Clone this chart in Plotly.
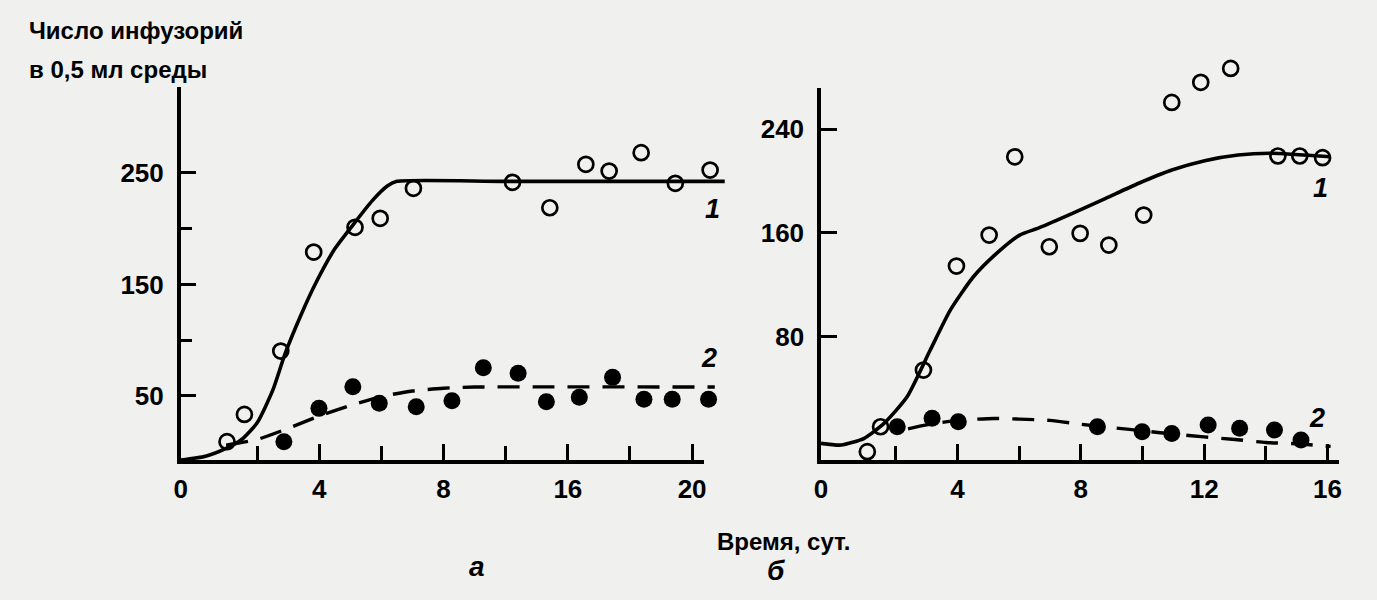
import plotly.graph_objects as go

# ---------------- data ----------------
# Panel a
a_open_x = [1.03, 1.59, 2.76, 3.82, 5.15, 5.96, 7.03, 10.22, 11.42, 12.58, 13.33, 14.36, 15.46, 16.58]
a_open_y = [9.0, 33.5, 90.3, 179.1, 201.3, 209.3, 236.2, 241.6, 218.8, 257.8, 251.7, 268.2, 240.7, 252.6]
a_fill_x = [2.86, 3.99, 5.08, 5.93, 7.12, 8.27, 9.28, 10.40, 11.31, 12.37, 13.44, 14.45, 15.36, 16.53]
a_fill_y = [9.0, 38.9, 58.3, 43.4, 40.4, 45.7, 75.3, 70.3, 44.8, 48.8, 66.7, 47.0, 47.0, 47.0]
a_curve1_x = [-0.46, 0.34, 1.0, 1.5, 2.0, 2.5, 2.9, 3.4, 3.9, 4.5, 5.1, 5.7, 6.2, 6.5, 10.0, 17.05]
a_curve1_y = [-7.4, -4.0, 3.0, 11.0, 26.0, 55.0, 88.0, 122.0, 152.0, 182.0, 204.0, 225.0, 238.5, 242.5, 242.5, 242.5]
a_curve2_x = [1.0, 2.0, 3.0, 4.0, 5.0, 6.0, 7.0, 8.0, 9.0, 16.73]
a_curve2_y = [6.0, 11.0, 21.0, 32.0, 41.5, 49.5, 54.5, 57.0, 58.0, 58.0]

# Panel б
b_open_x = [1.08, 1.51, 2.90, 3.97, 5.03, 5.86, 6.98, 7.98, 8.91, 10.04, 10.95, 11.89, 12.86, 14.39, 15.10, 15.84]
b_open_y = [-8.6, 10.6, 54.3, 134.4, 158.3, 218.6, 149.3, 159.6, 150.6, 173.7, 260.5, 276.0, 286.7, 219.2, 219.2, 217.9]
b_fill_x = [2.05, 3.18, 4.03, 8.54, 9.99, 10.95, 12.13, 13.15, 14.28, 15.14]
b_fill_y = [10.6, 17.1, 14.5, 10.6, 6.8, 5.5, 11.9, 9.4, 8.1, 0.4]
b_curve1_x = [-0.42, 0.23, 0.98, 1.62, 2.37, 3.12, 3.77, 4.52, 5.27, 6.02, 6.66, 7.73, 8.81, 9.88, 10.95, 12.02, 13.10, 14.17, 16.09]
b_curve1_y = [-2.2, -3.5, 1.7, 13.2, 33.7, 69.7, 100.5, 126.2, 144.2, 158.3, 164.0, 175.0, 186.6, 198.2, 208.4, 215.6, 220.0, 221.3, 218.6]
b_curve2_x = [2.4, 3.0, 4.0, 5.2, 6.0, 7.0, 8.0, 9.0, 10.0, 11.0, 12.0, 13.0, 14.0, 15.0, 16.1]
b_curve2_y = [9.0, 12.0, 15.5, 17.0, 16.5, 15.5, 12.5, 10.0, 7.5, 5.0, 2.8, 0.8, -1.5, -2.5, -4.5]

# ticks
a_xtick_vals = [-0.46, 4, 8, 12, 16]
a_xtick_text = ["0", "4", "8", "16", "20"]
a_xminor = [2, 6, 10, 14]
a_ytick_vals = [50, 150, 250]
a_yminor = [100, 200]
b_xtick_vals = [-0.42, 4, 8, 12, 16]
b_xtick_text = ["0", "4", "8", "12", "16"]
b_xminor = [2, 6, 10, 14]
b_ytick_vals = [80, 160, 240]

# ---------------- layout helpers ----------------
W, H = 1377, 600
FONT = "Liberation Sans, Arial, Helvetica, sans-serif"


def xdom(p0, p1):
    return [p0 / W, p1 / W]


def ydom(top, bottom):
    return [(H - bottom) / H, (H - top) / H]


def extend(rng, p0, p1, p1_new):
    """keep the same scale, extend the range to a larger pixel span"""
    return [rng[0], rng[0] + (rng[1] - rng[0]) * (p1_new - p0) / (p1 - p0)]


# visible frames (pixels) and ranges
A_X = (175, 702); A_XR = [-0.46, 16.38]
A_Y = (87, 460); A_YR = [-7.4, 327.1]
B_X = (820, 1342); B_XR = [-0.42, 16.38]
B_Y = (88, 460); B_YR = [-15.0, 271.6]

fig = go.Figure()

# empty traces so that the frame axes are drawn
fig.add_trace(go.Scatter(x=[], y=[], xaxis="x", yaxis="y", showlegend=False))
fig.add_trace(go.Scatter(x=[], y=[], xaxis="x2", yaxis="y2", showlegend=False))

open_marker = dict(symbol="circle-open", size=15, color="black", line=dict(width=2.7, color="black"))
fill_marker = dict(symbol="circle", size=17, color="black")
solid = dict(color="black", width=3.6, shape="spline", smoothing=0.6)
dashed = dict(color="black", width=3.4, dash="22px,13px", shape="spline", smoothing=0.6)

for xa, ya, c1x, c1y, c2x, c2y, ox, oy, fx, fy in [
    ("x3", "y3", a_curve1_x, a_curve1_y, a_curve2_x, a_curve2_y, a_open_x, a_open_y, a_fill_x, a_fill_y),
    ("x4", "y4", b_curve1_x, b_curve1_y, b_curve2_x, b_curve2_y, b_open_x, b_open_y, b_fill_x, b_fill_y),
]:
    fig.add_trace(go.Scatter(x=c1x, y=c1y, mode="lines", line=solid, xaxis=xa, yaxis=ya, showlegend=False, hoverinfo="skip"))
    fig.add_trace(go.Scatter(x=c2x, y=c2y, mode="lines", line=dashed, xaxis=xa, yaxis=ya, showlegend=False, hoverinfo="skip"))
    fig.add_trace(go.Scatter(x=ox, y=oy, mode="markers", marker=open_marker, xaxis=xa, yaxis=ya, showlegend=False, cliponaxis=False))
    fig.add_trace(go.Scatter(x=fx, y=fy, mode="markers", marker=fill_marker, xaxis=xa, yaxis=ya, showlegend=False, cliponaxis=False))

tickfont = dict(family=FONT, size=26, color="black", weight="bold")
axis_common = dict(showgrid=False, zeroline=False, showline=True, linecolor="black", linewidth=3.5,
                   ticks="inside", ticklen=16, tickwidth=3, tickcolor="black", tickfont=tickfont,
                   fixedrange=True)

fig.update_layout(
    width=W, height=H,
    margin=dict(l=0, r=0, t=0, b=0),
    paper_bgcolor="#f0f0ee", plot_bgcolor="rgba(0,0,0,0)",
    showlegend=False,
    # visible axes panel a
    xaxis=dict(domain=xdom(*A_X), range=A_XR, anchor="y", tickmode="array", tickvals=a_xtick_vals, ticktext=a_xtick_text,
               minor=dict(tickmode="array", tickvals=a_xminor, ticks="inside", ticklen=14, tickwidth=3, tickcolor="black"),
               ticklabelstandoff=3, **axis_common),
    yaxis=dict(domain=ydom(*A_Y), range=A_YR, anchor="x", tickmode="array", tickvals=a_ytick_vals,
               minor=dict(tickmode="array", tickvals=a_yminor, ticks="inside", ticklen=12, tickwidth=3, tickcolor="black"),
               ticklabelstandoff=8, **axis_common),
    # visible axes panel б
    xaxis2=dict(domain=xdom(*B_X), range=B_XR, anchor="y2", tickmode="array", tickvals=b_xtick_vals, ticktext=b_xtick_text,
                minor=dict(tickmode="array", tickvals=b_xminor, ticks="inside", ticklen=14, tickwidth=3, tickcolor="black"),
                ticklabelstandoff=3, **axis_common),
    yaxis2=dict(domain=ydom(*B_Y), range=B_YR, anchor="x2", tickmode="array", tickvals=b_ytick_vals,
                ticklabelstandoff=8, **axis_common),
    # data axes (same scale, larger area so marks can pass the axis ends)
    xaxis3=dict(domain=xdom(A_X[0], 735), range=extend(A_XR, A_X[0], A_X[1], 735), anchor="y3", visible=False, fixedrange=True),
    yaxis3=dict(domain=ydom(50, A_Y[1]), range=extend(A_YR, A_Y[1], A_Y[0], 50), anchor="x3", visible=False, fixedrange=True),
    xaxis4=dict(domain=xdom(B_X[0], 1370), range=extend(B_XR, B_X[0], B_X[1], 1370), anchor="y4", visible=False, fixedrange=True),
    yaxis4=dict(domain=ydom(45, B_Y[1]), range=extend(B_YR, B_Y[1], B_Y[0], 45), anchor="x4", visible=False, fixedrange=True),
)

txt = dict(family=FONT, color="black", weight="bold")
ann = []
ann.append(dict(text="Число инфузорий", x=20 / W, y=(H - 31) / H, xref="paper", yref="paper", xanchor="left", yanchor="middle",
                showarrow=False, font=dict(size=24, **txt)))
ann.append(dict(text="в 0,5 мл среды", x=20 / W, y=(H - 69) / H, xref="paper", yref="paper", xanchor="left", yanchor="middle",
                showarrow=False, font=dict(size=24, **txt)))
ann.append(dict(text="Время, сут.", x=713 / W, y=(H - 541) / H, xref="paper", yref="paper", xanchor="left", yanchor="middle",
                showarrow=False, font=dict(size=24, **txt)))
ann.append(dict(text="<i>а</i>", x=473 / W, y=(H - 566) / H, xref="paper", yref="paper", xanchor="center", yanchor="middle",
                showarrow=False, font=dict(size=28, **txt)))
ann.append(dict(text="<i>б</i>", x=775 / W, y=(H - 570) / H, xref="paper", yref="paper", xanchor="center", yanchor="middle",
                showarrow=False, font=dict(size=28, **txt)))
# curve numbers
for t, x, y, xr, yr in [("1", 16.66, 217.6, "x3", "y3"), ("2", 16.56, 84.0, "x3", "y3"),
                        ("1", 15.77, 194.5, "x4", "y4"), ("2", 15.67, 17.5, "x4", "y4")]:
    ann.append(dict(text="<i>" + t + "</i>", x=x, y=y, xref=xr, yref=yr, showarrow=False,
                    xanchor="center", yanchor="middle", font=dict(size=27, **txt)))
fig.update_layout(annotations=ann)

fig.write_html("out.html", config={"displayModeBar": False},
               post_script="document.body.style.margin='0';document.body.style.overflow='hidden';")
